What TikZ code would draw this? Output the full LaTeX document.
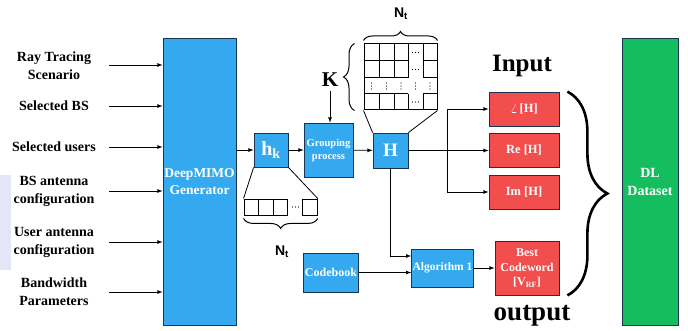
\documentclass[tikz,border=0pt]{standalone}
\usepackage{fontspec}
\setmainfont{Liberation Serif}
\newfontfamily\labelsans{Liberation Sans}
\usetikzlibrary{decorations.pathreplacing}
\definecolor{boxblue}{HTML}{35A9EF}
\definecolor{boxred}{HTML}{F24E4E}
\definecolor{boxgreen}{HTML}{14BE5F}
\definecolor{edgedark}{HTML}{1B3550}
\definecolor{lavender}{HTML}{E5E5F8}
\begin{document}
\begin{tikzpicture}[x=1pt,y=-1pt,>=latex,line width=0.8pt,
  inlabel/.style={align=center,font=\fontsize{14}{18}\selectfont\bfseries},
  bluebox/.style={draw=edgedark,fill=boxblue,text=white,align=center,inner sep=1pt,
    font=\fontsize{12}{14.5}\selectfont\bfseries},
  redbox/.style={bluebox,fill=boxred},
  greenbox/.style={bluebox,fill=boxgreen},
  cell/.style={draw,line width=0.9pt,minimum width=14.6pt,minimum height=16pt,inner sep=0pt},
  curly/.style={decorate,decoration={brace,amplitude=#1}},
]
\useasboundingbox (0,0) rectangle (688,331);
\fill[lavender] (0,175) rectangle (11,270);
%
\node[inlabel] (in1) at (54,66) {Ray Tracing\\Scenario};
\node[inlabel] (in2) at (54,106) {Selected BS};
\node[inlabel] (in3) at (54,147) {Selected users};
\node[inlabel] (in4) at (54,191) {BS antenna\\configuration};
\node[inlabel] (in5) at (54,242) {User antenna\\configuration};
\node[inlabel] (in6) at (54,292) {Bandwidth\\Parameters};
%
\node[bluebox,minimum width=73,minimum height=287,font=\fontsize{13.5}{17}\selectfont\bfseries] (gen) at (199.5,181.5) {DeepMIMO\\Generator};
%
\foreach \i/\y in {1/65,2/106,3/147,4/191,5/242,6/292} {
  \coordinate (s\i) at (109,\y);
  \draw [->] (s\i) -- (s\i -| gen.west);
}
%
\node[bluebox,minimum size=34,font=\fontsize{20}{20}\selectfont\bfseries] (hk) at (271,150) {h\textsubscript{k}};
\node[bluebox,minimum width=49,minimum height=54,font=\fontsize{10.5}{13}\selectfont\bfseries] (grp) at (328.5,150) {Grouping\\process};
\node[bluebox,minimum size=35,font=\fontsize{19}{19}\selectfont\bfseries] (H) at (390.5,150.5) {H};
\node[font=\fontsize{21}{21}\selectfont\bfseries] (K) at (330,80) {K};
%
\draw [->] (gen.east |- hk) -- (hk);
\draw [->] (hk) -- (grp);
\draw [->] (grp) -- (H);
\draw [->] (K) -- (K |- grp.north);
%
\node[cell] (c1) at (251.3,207) {};
\node[cell] (c2) at (265.9,207) {};
\node[cell] (c3) at (280.5,207) {};
\node[cell] (c4) at (310,207) {};
\fill (292.5,207) circle (0.7) (295.5,207) circle (0.7) (298.5,207) circle (0.7);
\draw (hk.south west) -- (c1.north west);
\draw (hk.south east) -- (c4.north east);
\draw [curly=10,line width=1pt] ([yshift=-3]c4.south east) -- ([yshift=-3]c1.south west);
\node[font=\labelsans\fontsize{14}{14}\selectfont\bfseries] (nt2) at (282,252) {N\textsubscript{t}};
%
\node[draw,line width=1pt,minimum width=73,minimum height=66,inner sep=0pt] (grid) at (400.5,77) {};
\foreach \x in {379,394,408,423} {
  \draw [line width=1pt] (\x,44) -- (\x,78);
  \draw [line width=1pt] (\x,94) -- (\x,110);
}
\foreach \y in {61,78,94} {
  \draw [line width=1pt] (364,\y) -- (408,\y);
  \draw [line width=1pt] (423,\y) -- (437,\y);
}
\foreach \y in {52.5,69.5,102} {
  \fill (412.5,\y) circle (0.6) (415.5,\y) circle (0.6) (418.5,\y) circle (0.6);
}
\foreach \x in {371.5,386.5,401,415.5,430} {
  \fill (\x,83) circle (0.6) (\x,86) circle (0.6) (\x,89) circle (0.6);
}
\draw (H.north west) -- (grid.south west);
\draw (H.north east) -- (grid.south east);
\draw [curly=9,line width=1pt] ([yshift=3]grid.north west) -- ([yshift=3]grid.north east);
\draw [curly=11,line width=1pt] ([xshift=-9]grid.south west) -- ([xshift=-9]grid.north west);
\node[font=\labelsans\fontsize{14}{14}\selectfont\bfseries] (nt1) at (401,14) {N\textsubscript{t}};
%
\node[redbox,minimum width=70,minimum height=34,font=\fontsize{12.5}{14}\selectfont\bfseries] (r1) at (524,109) {$\angle$\,[H]};
\node[redbox,minimum width=70,minimum height=34,font=\fontsize{12.5}{14}\selectfont\bfseries] (r2) at (524,150.5) {Re [H]};
\node[redbox,minimum width=70,minimum height=34,font=\fontsize{12.5}{14}\selectfont\bfseries] (r3) at (524,192) {Im [H]};
\coordinate (j) at (447,150.5);
\draw [->] (H) -- (r2);
\draw [->] (j) |- (r1);
\draw [->] (j) |- (r3);
%
\node[bluebox,minimum width=55,minimum height=39] (cb) at (331,272.5) {Codebook};
\node[bluebox,minimum width=59,minimum height=38,font=\fontsize{11.5}{14}\selectfont\bfseries] (alg) at (442.5,268) {Algorithm 1};
\node[redbox,minimum width=64,minimum height=54] (best) at (527,268) {Best\\Codeword\\{[}V\textsubscript{RF}{]}};
\draw [->] (H) |- ([yshift=12]alg.west);
\draw [->] (cb) -- (cb -| alg.west);
\draw [->] (alg) -- (best);
%
\node[font=\fontsize{25}{25}\selectfont\bfseries] (inp) at (522,66) {Input};
\node[font=\fontsize{27}{27}\selectfont\bfseries] (outp) at (532,316) {output};
\draw [curly=40,line width=2.6pt] ([xshift=8]r1.north east) -- ([xshift=8]best.south east);
%
\node[greenbox,minimum width=56,minimum height=287,font=\fontsize{14}{18}\selectfont\bfseries] (dl) at (650,181.5) {DL\\Dataset};
\end{tikzpicture}
\end{document}
